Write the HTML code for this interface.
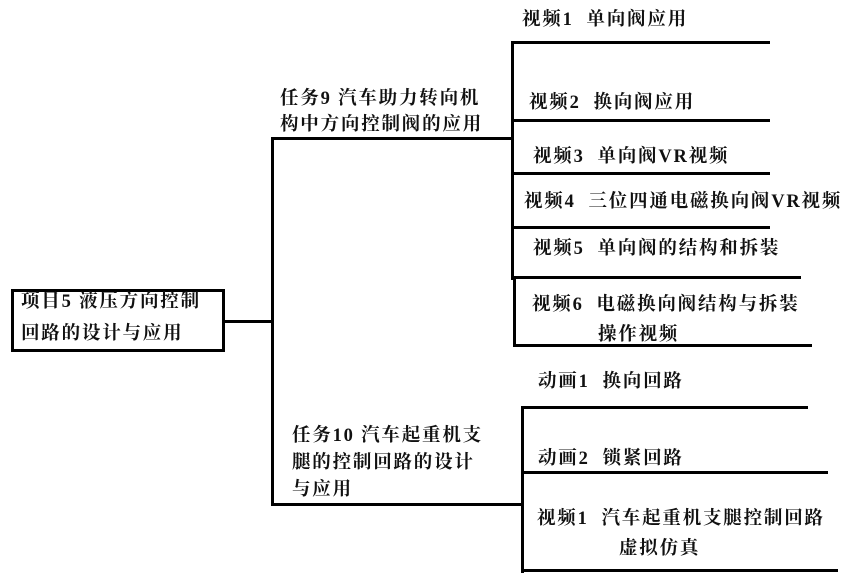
<!DOCTYPE html>
<html><head><meta charset="utf-8"><style>
body{margin:0;width:848px;height:582px;background:#fff;position:relative;overflow:hidden;font-family:"Liberation Serif","Noto Serif CJK SC",serif;font-weight:bold;color:#111}
.t{position:absolute;font-size:18.5px;line-height:30px;white-space:nowrap;letter-spacing:1.8px}
.h{position:absolute;height:3px;background:#000}
.v{position:absolute;width:3px;background:#000}
</style></head><body>
<div style="position:absolute;left:11px;top:289px;width:208px;height:57px;border:3px solid #000"></div>
<div class="t" style="left:21px;top:286px;line-height:32px">项目5 液压方向控制<br>回路的设计与应用</div>
<div class="h" style="left:225px;top:320px;width:49px"></div>
<div class="v" style="left:271px;top:137px;height:369px"></div>
<div class="h" style="left:271px;top:137px;width:243px"></div>
<div class="h" style="left:271px;top:503px;width:252px"></div>
<div class="t" style="left:280px;top:86px;line-height:26px">任务9 汽车助力转向机<br>构中方向控制阀的应用</div>
<div class="t" style="left:292px;top:423px;line-height:27px">任务10 汽车起重机支<br>腿的控制回路的设计<br>与应用</div>
<div class="v" style="left:511px;top:41px;height:239px"></div>
<div class="v" style="left:513px;top:277px;height:70px"></div>
<div class="h" style="left:511px;top:41px;width:259px"></div>
<div class="h" style="left:511px;top:119px;width:259px"></div>
<div class="h" style="left:511px;top:172px;width:259px"></div>
<div class="h" style="left:511px;top:226px;width:259px"></div>
<div class="h" style="left:511px;top:276px;width:290px"></div>
<div class="h" style="left:513px;top:344px;width:299px"></div>
<div class="t" style="left:522px;top:5px">视频1&nbsp; 单向阀应用</div>
<div class="t" style="left:529px;top:88px">视频2&nbsp; 换向阀应用</div>
<div class="t" style="left:533px;top:142px">视频3&nbsp; 单向阀VR视频</div>
<div class="t" style="left:524px;top:187px">视频4&nbsp; 三位四通电磁换向阀VR视频</div>
<div class="t" style="left:533px;top:234px">视频5&nbsp; 单向阀的结构和拆装</div>
<div class="t" style="left:532px;top:290px">视频6&nbsp; 电磁换向阀结构与拆装<br><span style="padding-left:66px">操作视频</span></div>
<div class="v" style="left:521px;top:406px;height:167px"></div>
<div class="h" style="left:521px;top:406px;width:287px"></div>
<div class="h" style="left:521px;top:471px;width:307px"></div>
<div class="h" style="left:521px;top:569px;width:317px"></div>
<div class="t" style="left:538px;top:367px">动画1&nbsp; 换向回路</div>
<div class="t" style="left:538px;top:444px">动画2&nbsp; 锁紧回路</div>
<div class="t" style="left:537px;top:504px">视频1&nbsp; 汽车起重机支腿控制回路<br><span style="padding-left:82px">虚拟仿真</span></div>
</body></html>
